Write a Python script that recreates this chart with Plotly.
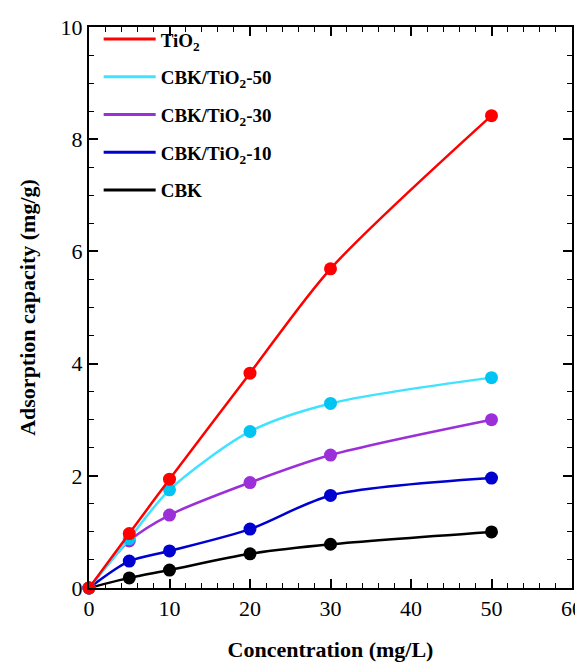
import plotly.graph_objects as go

conc = [0, 5, 10, 20, 30, 50]
series_names = ["TiO<sub>2</sub>", "CBK/TiO<sub>2</sub>-50", "CBK/TiO<sub>2</sub>-30", "CBK/TiO<sub>2</sub>-10", "CBK"]
tio2 = [0, 0.97, 1.94, 3.83, 5.69, 8.42]
cbk_tio2_50 = [0, 0.88, 1.75, 2.79, 3.29, 3.75]
cbk_tio2_30 = [0, 0.84, 1.30, 1.88, 2.37, 3.00]
cbk_tio2_10 = [0, 0.48, 0.66, 1.05, 1.65, 1.96]
cbk = [0, 0.18, 0.32, 0.61, 0.78, 1.00]
values = [tio2, cbk_tio2_50, cbk_tio2_30, cbk_tio2_10, cbk]
line_colors = ["#FF0000", "#3FE3FF", "#9B30D8", "#0000D0", "#000000"]
marker_colors = ["#FF0000", "#00C4F2", "#9B30D8", "#0000D0", "#000000"]
x_ticks = [0, 10, 20, 30, 40, 50, 60]
y_ticks = [0, 2, 4, 6, 8, 10]

fig = go.Figure()

for i in reversed(range(len(series_names))):
    fig.add_trace(go.Scatter(
        x=conc, y=values[i], mode="lines+markers",
        line=dict(color=line_colors[i], width=2.5, shape="spline", smoothing=0.8),
        marker=dict(color=marker_colors[i], size=13),
        showlegend=False, hoverinfo="skip", cliponaxis=False))

for i in range(len(series_names)):
    fig.add_trace(go.Scatter(
        x=[None], y=[None], mode="lines", name="<b>" + series_names[i] + "</b>",
        legendgroup=f"g{i}",
        line=dict(color=line_colors[i], width=3)))

font_family = "Times New Roman, Liberation Serif, Times, serif"
axis_common = dict(
    showline=True, linecolor="black", linewidth=2, mirror="ticks",
    ticks="inside", ticklen=9, tickwidth=1.5, tickcolor="black",
    showgrid=False, zeroline=False,
    tickfont=dict(family=font_family, size=22, color="black"),
    ticklabeloverflow="allow", automargin=False,
)

fig.update_layout(
    width=575, height=654,
    margin=dict(l=81, r=11, t=19, b=74),
    paper_bgcolor="white", plot_bgcolor="white",
    font=dict(family=font_family, color="black"),
    xaxis=dict(range=[0, 60], tickvals=x_ticks,
               minor=dict(dtick=2, ticks="inside", ticklen=5, tickwidth=1.2, tickcolor="black"),
               title=dict(text="<b>Concentration (mg/L)</b>", font=dict(family=font_family, size=22), standoff=22),
               **axis_common),
    yaxis=dict(range=[0, 10], tickvals=y_ticks,
               minor=dict(dtick=0.5, ticks="inside", ticklen=5, tickwidth=1.2, tickcolor="black"),
               title=dict(text="<b>Adsorption capacity (mg/g)</b>", font=dict(family=font_family, size=22), standoff=19),
               **axis_common),
    legend=dict(x=0.02, y=1.012, xanchor="left", yanchor="top",
                bgcolor="rgba(0,0,0,0)", borderwidth=0,
                font=dict(family=font_family, size=19, color="black"),
                tracegroupgap=10, itemwidth=52, traceorder="grouped"),
)

fig.write_html("out.html")
